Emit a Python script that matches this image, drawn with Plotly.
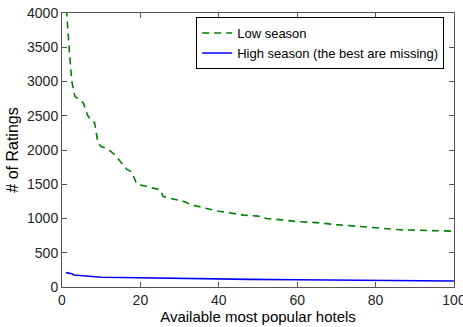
import plotly.graph_objects as go

# Data
low_x = [1, 1.2, 1.8, 2.5, 3.3, 4.5, 5.5, 6.5, 7.6, 8.3, 9.2, 10, 11, 12.2, 13.5, 15.2, 16.5, 17.8, 19, 20, 22.4, 25, 25.8, 28, 31, 33, 35.2, 37, 39.5, 42, 46.3, 50, 52.2, 56, 60, 65, 70, 76.9, 81.1, 86.2, 90, 95, 100]
low_y = [4050, 4000, 3500, 3000, 2780, 2740, 2680, 2510, 2420, 2400, 2100, 2050, 2030, 1990, 1930, 1810, 1720, 1680, 1510, 1490, 1460, 1420, 1320, 1290, 1250, 1200, 1170, 1140, 1110, 1090, 1050, 1035, 1000, 980, 955, 940, 910, 880, 860, 835, 830, 825, 815]

high_x = [1, 2, 2.5, 3, 5, 7.1, 8.8, 10, 15, 18.9, 25, 30, 40, 48, 60, 73.5, 85, 100]
high_y = [210, 205, 195, 175, 168, 160, 146, 142, 138, 134, 128, 122, 116, 112, 106, 100, 94, 88]

x_ticks = [0, 20, 40, 60, 80, 100]
y_ticks = [0, 500, 1000, 1500, 2000, 2500, 3000, 3500, 4000]

FONT = "Liberation Sans, Arial, Helvetica"

fig = go.Figure()
fig.add_trace(go.Scatter(x=low_x, y=low_y, mode="lines", name="Low season",
                         line=dict(color="rgb(0,128,0)", width=1.6, dash="7px,5px")))
fig.add_trace(go.Scatter(x=high_x, y=high_y, mode="lines", name="High season (the best are missing)",
                         line=dict(color="rgb(0,0,255)", width=1.6)))

axis_common = dict(showgrid=False, zeroline=False, showline=True, linecolor="#555",
                   linewidth=1, mirror="ticks", ticks="inside", ticklen=5, tickcolor="#555",
                   automargin=False, ticklabeloverflow="allow",
                   tickfont=dict(family=FONT, size=14, color="#262626"))

fig.update_layout(
    width=463, height=327,
    margin=dict(l=62, r=9, t=13, b=40),
    paper_bgcolor="white", plot_bgcolor="white",
    font=dict(family=FONT, size=13, color="#000"),
    showlegend=True,
    legend=dict(x=0.975, y=0.985, xanchor="right", yanchor="top",
                bordercolor="#000", borderwidth=1, bgcolor="white",
                font=dict(size=13, family=FONT),
                itemwidth=30, tracegroupgap=0,
                itemclick=False),
)
fig.update_xaxes(range=[0, 100], tickvals=x_ticks,
                 title=dict(text="Available most popular hotels", standoff=2,
                            font=dict(size=15, family=FONT)),
                 **axis_common)
fig.update_yaxes(range=[0, 4000], tickvals=y_ticks,
                 title=dict(text="# of Ratings", standoff=4,
                            font=dict(size=16, family=FONT)),
                 **axis_common)

fig.write_html("out.html", config={"displayModeBar": False},
               post_script="document.body.style.margin='0';")
